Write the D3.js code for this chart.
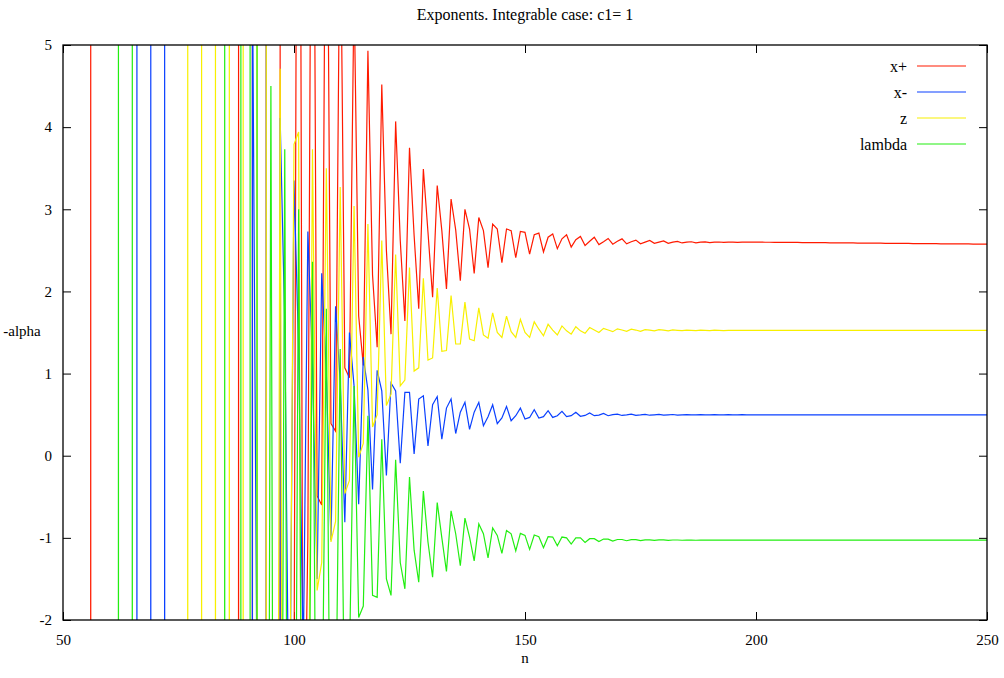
<!DOCTYPE html>
<html lang="en">
<head>
<meta charset="UTF-8" />
<title>Exponents. Integrable case: c1= 1</title>
<script src="https://d3js.org/d3.v7.min.js"></script>
<style>
  body { margin: 0; background: #fff; }
  svg { display: block; font-family: 'Liberation Serif', 'DejaVu Serif', serif; }
  .tick text { font-size: 15px; fill: #000; }
</style>
</head>
<body>
<svg width="1004" height="678"></svg>
<script>
// values of -alpha for n = 50 .. 250 (one per integer n)
// LO / HI = far outside the plotted range (the early spikes run off the chart)
const LO = -1000, HI = 1000;
const nFirst = 50;

const xPlus = [
  LO, LO, LO, LO, LO, LO, 6, LO, LO, LO,
  LO, LO, LO, LO, LO, LO, LO, LO, LO, LO,
  LO, LO, LO, LO, LO, LO, LO, LO, LO, LO,
  LO, LO, LO, LO, LO, LO, LO, LO, 6, LO,
  LO, 6, LO, LO, 6, LO, LO, 6, LO, LO,
  -3, 15, -5, -1, 11, -0.49, -0.6, 9, 0.39, 0.3,
  7, 1.07, 0.95, 5.7, 1.7, 1.1, 4.93, 2.2, 1.32, 4.52,
  2.5, 1.48, 4.07, 2.62, 1.64, 3.75, 2.68, 1.79, 3.49, 2.72,
  1.93, 3.29, 2.74, 2.03, 3.125, 2.75, 2.13, 3.0, 2.76, 2.22,
  2.9, 2.74, 2.29, 2.82, 2.76, 2.35, 2.76, 2.74, 2.41, 2.73,
  2.72, 2.455, 2.69, 2.71, 2.48, 2.66, 2.7, 2.52, 2.64, 2.69,
  2.54, 2.63, 2.67, 2.56, 2.61, 2.66, 2.57, 2.605, 2.645, 2.575,
  2.61, 2.64, 2.58, 2.605, 2.625, 2.58, 2.6, 2.62, 2.585, 2.6,
  2.615, 2.585, 2.6, 2.61, 2.59, 2.6, 2.605, 2.592, 2.6, 2.604,
  2.595, 2.6, 2.602, 2.596, 2.6, 2.601, 2.598, 2.6, 2.6, 2.6,
  2.6, 2.6, 2.599, 2.599, 2.598, 2.598, 2.597, 2.597, 2.596, 2.596,
  2.595, 2.595, 2.594, 2.594, 2.593, 2.593, 2.592, 2.592, 2.591, 2.591,
  2.59, 2.59, 2.589, 2.589, 2.588, 2.588, 2.587, 2.587, 2.586, 2.586,
  2.585, 2.585, 2.584, 2.584, 2.583, 2.583, 2.582, 2.582, 2.581, 2.581,
  2.58, 2.58, 2.579, 2.579, 2.578, 2.578, 2.578, 2.577, 2.577, 2.577,
  2.577
];

const xMinus = [
  LO, LO, LO, LO, LO, LO, LO, LO, LO, LO,
  LO, LO, LO, LO, LO, LO, 6, LO, LO, 6,
  LO, LO, 6, LO, LO, LO, LO, LO, LO, LO,
  LO, LO, LO, LO, LO, LO, LO, LO, LO, LO,
  LO, 6, -3, LO, 6, LO, LO, 4.11, 1.6, -4,
  3.35, 1.3, -2.5, 2.73, 1.1, -1.5, 2.22, 1.0, -1.03, 1.82,
  0.9, -0.81, 1.5, 0.85, -0.59, 1.2, 0.8, -0.41, 1.04, 0.79,
  -0.24, 0.885, 0.79, -0.09, 0.77, 0.77, 0.02, 0.69, 0.73, 0.12,
  0.62, 0.72, 0.2, 0.58, 0.69, 0.27, 0.53, 0.65, 0.32, 0.53,
  0.65, 0.365, 0.475, 0.62, 0.39, 0.46, 0.6, 0.426, 0.487, 0.58,
  0.447, 0.466, 0.56, 0.459, 0.475, 0.548, 0.466, 0.487, 0.54, 0.475,
  0.487, 0.53, 0.48, 0.49, 0.52, 0.487, 0.495, 0.515, 0.487, 0.5,
  0.507, 0.49, 0.497, 0.506, 0.492, 0.497, 0.504, 0.493, 0.498, 0.503,
  0.494, 0.498, 0.502, 0.495, 0.498, 0.501, 0.496, 0.498, 0.5, 0.497,
  0.498, 0.5, 0.497, 0.498, 0.499, 0.497, 0.498, 0.499, 0.498, 0.498,
  0.498, 0.498, 0.498, 0.498, 0.498, 0.498, 0.498, 0.498, 0.498, 0.498,
  0.498, 0.498, 0.498, 0.498, 0.498, 0.498, 0.498, 0.498, 0.498, 0.498,
  0.498, 0.498, 0.498, 0.498, 0.498, 0.498, 0.498, 0.498, 0.498, 0.498,
  0.498, 0.498, 0.498, 0.498, 0.498, 0.498, 0.498, 0.498, 0.498, 0.498,
  0.498, 0.498, 0.498, 0.498, 0.498, 0.498, 0.498, 0.498, 0.498, 0.498,
  0.498
];

const zVals = [
  LO, LO, LO, LO, LO, LO, LO, LO, LO, LO,
  LO, LO, LO, LO, LO, LO, LO, LO, LO, LO,
  LO, LO, LO, LO, LO, LO, LO, 6, LO, LO,
  6, LO, LO, 6, LO, LO, 6, LO, LO, 6,
  LO, LO, 6, LO, 6, LO, -15, 4.71, -15, -4,
  3.79, 3.94, -10, -5, 3.73, -1.64, -1.3, 3.5, -1.05, -0.8,
  3.27, -0.46, -0.3, 3.04, -0.02, 0.15, 2.82, 0.35, 0.5, 2.62,
  0.61, 0.75, 2.45, 0.85, 0.92, 2.29, 1.03, 1.07, 2.16, 1.165,
  1.19, 2.04, 1.27, 1.28, 1.95, 1.36, 1.36, 1.87, 1.42, 1.4,
  1.8, 1.47, 1.43, 1.74, 1.5, 1.44, 1.7, 1.51, 1.44, 1.66,
  1.5, 1.44, 1.63, 1.54, 1.46, 1.6, 1.53, 1.47, 1.58, 1.52,
  1.48, 1.57, 1.52, 1.49, 1.56, 1.53, 1.5, 1.55, 1.53, 1.51,
  1.545, 1.53, 1.515, 1.54, 1.53, 1.515, 1.535, 1.53, 1.52, 1.535,
  1.528, 1.52, 1.532, 1.527, 1.522, 1.53, 1.527, 1.523, 1.53, 1.527,
  1.524, 1.528, 1.526, 1.524, 1.527, 1.526, 1.525, 1.527, 1.526, 1.525,
  1.525, 1.525, 1.525, 1.525, 1.525, 1.525, 1.525, 1.525, 1.525, 1.525,
  1.525, 1.525, 1.525, 1.525, 1.525, 1.525, 1.525, 1.525, 1.525, 1.525,
  1.525, 1.525, 1.525, 1.525, 1.525, 1.525, 1.525, 1.525, 1.525, 1.525,
  1.525, 1.525, 1.525, 1.525, 1.525, 1.525, 1.525, 1.525, 1.525, 1.525,
  1.525, 1.525, 1.525, 1.525, 1.525, 1.525, 1.525, 1.525, 1.525, 1.525,
  1.525
];

const lambda = [
  LO, LO, LO, LO, LO, LO, LO, LO, LO, LO,
  LO, LO, 6, LO, LO, 6, LO, LO, LO, LO,
  LO, LO, LO, LO, LO, LO, LO, LO, LO, LO,
  LO, LO, LO, LO, LO, 6, LO, LO, LO, HI,
  HI, LO, 6, LO, -15, 4.5, -15, -10, 3.73, -12,
  -8, 3.0, -8, -6, 2.36, -6, -4, 1.79, -5, -3.5,
  1.3, -3.5, -2.5, 0.85, -1.97, -1.83, 0.487, -1.7, -1.725, 0.2,
  -1.5, -1.7, -0.05, -1.3, -1.62, -0.26, -1.15, -1.54, -0.43, -1.05,
  -1.48, -0.57, -1.0, -1.41, -0.67, -0.95, -1.34, -0.76, -0.99, -1.28,
  -0.83, -0.95, -1.245, -0.88, -0.97, -1.19, -0.91, -0.95, -1.16, -0.946,
  -0.97, -1.14, -0.965, -0.986, -1.12, -0.986, -0.99, -1.096, -0.99, -1.0,
  -1.075, -1.0, -1.0, -1.055, -1.01, -1.01, -1.045, -1.015, -1.015, -1.04,
  -1.02, -1.02, -1.035, -1.022, -1.022, -1.033, -1.024, -1.024, -1.031, -1.025,
  -1.025, -1.03, -1.026, -1.026, -1.029, -1.027, -1.027, -1.029, -1.027, -1.027,
  -1.028, -1.028, -1.028, -1.028, -1.028, -1.028, -1.028, -1.028, -1.028, -1.028,
  -1.028, -1.028, -1.028, -1.028, -1.028, -1.028, -1.028, -1.028, -1.028, -1.028,
  -1.028, -1.028, -1.028, -1.028, -1.028, -1.028, -1.028, -1.028, -1.028, -1.028,
  -1.028, -1.028, -1.028, -1.028, -1.028, -1.028, -1.028, -1.028, -1.028, -1.028,
  -1.028, -1.028, -1.028, -1.028, -1.028, -1.028, -1.028, -1.028, -1.028, -1.028,
  -1.028, -1.028, -1.028, -1.028, -1.028, -1.028, -1.028, -1.028, -1.028, -1.028,
  -1.028
];

const xTicks = [50, 100, 150, 200, 250];
const yTicks = [-2, -1, 0, 1, 2, 3, 4, 5];

const series = [
  { name: "x+", values: xPlus, color: "#ff1a00" },
  { name: "x-", values: xMinus, color: "#0a40ff" },
  { name: "z", values: zVals, color: "#f8f000" },
  { name: "lambda", values: lambda, color: "#22ee11" }
];

const svg = d3.select("svg");
const mLeft = 63, mRight = 987, mTop = 45, mBottom = 620;

const x = d3.scaleLinear().domain([50, 250]).range([mLeft, mRight]);
const y = d3.scaleLinear().domain([-2, 5]).range([mBottom, mTop]);

svg.append("defs").append("clipPath").attr("id", "plotclip")
  .append("rect")
  .attr("x", mLeft).attr("y", mTop)
  .attr("width", mRight - mLeft).attr("height", mBottom - mTop);

// d3 axes set a sans-serif font on the group; drop it so the serif font is used
const plain = g => g.attr("font-family", null).attr("font-size", null).select(".domain").remove();

// axes with inward ticks, mirrored on top and right
svg.append("g")
  .attr("transform", `translate(0,${mBottom})`)
  .call(d3.axisBottom(x).tickValues(xTicks).tickSize(-8).tickPadding(14).tickFormat(d => String(d)))
  .call(plain);
svg.append("g")
  .attr("transform", `translate(0,${mTop})`)
  .call(d3.axisTop(x).tickValues(xTicks).tickSize(-8).tickFormat(""))
  .call(plain);
svg.append("g")
  .attr("transform", `translate(${mLeft},0)`)
  .call(d3.axisLeft(y).tickValues(yTicks).tickSize(-8).tickPadding(11).tickFormat(d => String(d)))
  .call(plain);
svg.append("g")
  .attr("transform", `translate(${mRight},0)`)
  .call(d3.axisRight(y).tickValues(yTicks).tickSize(-8).tickFormat(""))
  .call(plain);

svg.selectAll(".tick line").attr("stroke", "#000");

const line = d3.line()
  .x((d, i) => x(nFirst + i))
  .y(d => y(d));

svg.append("g").attr("clip-path", "url(#plotclip)")
  .selectAll("path")
  .data(series)
  .enter()
  .append("path")
  .attr("d", d => line(d.values))
  .attr("fill", "none")
  .attr("stroke", d => d.color)
  .attr("stroke-width", 1.2);

svg.append("rect")
  .attr("x", mLeft).attr("y", mTop)
  .attr("width", mRight - mLeft).attr("height", mBottom - mTop)
  .attr("fill", "none").attr("stroke", "#000").attr("stroke-width", 1.3);

// legend
const legend = svg.append("g");
series.forEach((s, i) => {
  const ly = 66 + i * 26;
  legend.append("text")
    .attr("x", 907).attr("y", ly).attr("dy", "0.35em")
    .attr("text-anchor", "end").attr("font-size", 16)
    .text(s.name);
  legend.append("line")
    .attr("x1", 917).attr("x2", 966).attr("y1", ly).attr("y2", ly)
    .attr("stroke", s.color).attr("stroke-width", 1.2);
});

svg.append("text")
  .attr("x", 525).attr("y", 20)
  .attr("text-anchor", "middle").attr("font-size", 16)
  .text("Exponents. Integrable case: c1= 1");

svg.append("text")
  .attr("x", 525).attr("y", 663)
  .attr("text-anchor", "middle").attr("font-size", 15)
  .text("n");

svg.append("text")
  .attr("x", 22).attr("y", 336)
  .attr("text-anchor", "middle").attr("font-size", 15)
  .text("-alpha");
</script>
</body>
</html>
